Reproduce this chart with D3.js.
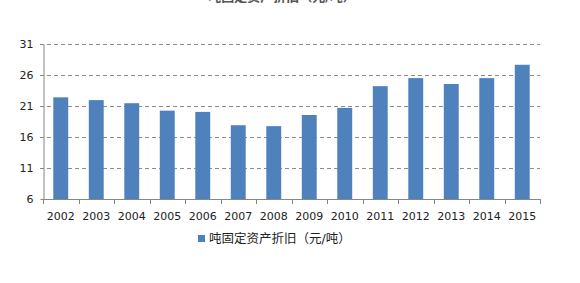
<!DOCTYPE html>
<html>
<head>
<meta charset="utf-8">
<script src="https://cdn.jsdelivr.net/npm/d3@7"></script>
<style>
  body { margin: 0; background: #fff; }
  text { font-family: "DejaVu Sans", "Noto Sans CJK SC", sans-serif; fill: #222; }
  .grid line { stroke: #8c8c8c; stroke-dasharray: 4,3; }
  .axis path, .axis line { stroke: #868686; }
</style>
</head>
<body>
<div id="chart"></div>
<script>
var years = ["2002","2003","2004","2005","2006","2007","2008","2009","2010","2011","2012","2013","2014","2015"];
var depreciation = [22.4, 21.95, 21.45, 20.25, 20.05, 17.9, 17.75, 19.55, 20.7, 24.2, 25.5, 24.55, 25.5, 27.65];
var yTicks = [6, 11, 16, 21, 26, 31];
var seriesName = "吨固定资产折旧（元/吨）";
var title = "吨固定资产折旧（元/吨）";

var margin = {top: 44, right: 40, bottom: 84, left: 43},
    width = 580 - margin.left - margin.right,
    height = 283 - margin.top - margin.bottom;

var svg = d3.select("#chart").append("svg")
    .attr("width", 580)
    .attr("height", 283);

// title mostly cropped off at the top, as in the source image
svg.append("text")
    .attr("x", 282)
    .attr("y", 1)
    .attr("text-anchor", "middle")
    .style("font-size", "13px")
    .style("font-weight", "bold")
    .style("fill", "#555")
    .text(title);

var g = svg.append("g")
    .attr("transform", "translate(" + margin.left + "," + margin.top + ")");

var x = d3.scaleBand()
    .domain(years)
    .range([0, width])
    .paddingInner(0.58)
    .paddingOuter(0.29);

var y = d3.scaleLinear()
    .domain([6, 31])
    .range([height, 0]);

g.append("g")
    .attr("class", "grid")
    .selectAll("line")
    .data(yTicks.slice(1))
    .enter().append("line")
    .attr("x1", -3)
    .attr("x2", width)
    .attr("y1", function(d) { return Math.round(y(d)) + 0.5; })
    .attr("y2", function(d) { return Math.round(y(d)) + 0.5; });

g.selectAll(".bar")
    .data(depreciation)
  .enter().append("rect")
    .attr("class", "bar")
    .attr("x", function(d, i) { return x(years[i]); })
    .attr("y", function(d) { return y(d); })
    .attr("width", x.bandwidth())
    .attr("height", function(d) { return height - y(d); })
    .attr("fill", "#4f81bd");

// y axis
var yAxis = d3.axisLeft(y).tickValues(yTicks).tickSize(3).tickSizeOuter(0);
g.append("g")
    .attr("class", "axis")
    .attr("transform", "translate(0.5,0)")
    .call(yAxis)
    .call(function(s) {
      s.selectAll("text").attr("x", -10).style("font-size", "11px");
    });

// x axis with ticks at category boundaries
g.append("line")
    .attr("x1", 0).attr("x2", width)
    .attr("y1", height + 0.5).attr("y2", height + 0.5)
    .attr("stroke", "#868686");
g.selectAll(".xtick")
    .data(d3.range(years.length + 1))
  .enter().append("line")
    .attr("x1", function(i) { return Math.round(i * width / years.length) + 0.5; })
    .attr("x2", function(i) { return Math.round(i * width / years.length) + 0.5; })
    .attr("y1", height)
    .attr("y2", height + 5)
    .attr("stroke", "#868686");
g.selectAll(".xlabel")
    .data(years)
  .enter().append("text")
    .attr("x", function(d) { return x(d) + x.bandwidth() / 2; })
    .attr("y", height + 21)
    .attr("text-anchor", "middle")
    .style("font-size", "11px")
    .text(function(d) { return d; });

// legend
var legend = svg.append("g").attr("transform", "translate(198,235)");
legend.append("rect")
    .attr("width", 7).attr("height", 7)
    .attr("fill", "#4f81bd");
legend.append("text")
    .attr("x", 11)
    .attr("y", 8)
    .style("font-size", "12.5px")
    .text(seriesName);
</script>
</body>
</html>
